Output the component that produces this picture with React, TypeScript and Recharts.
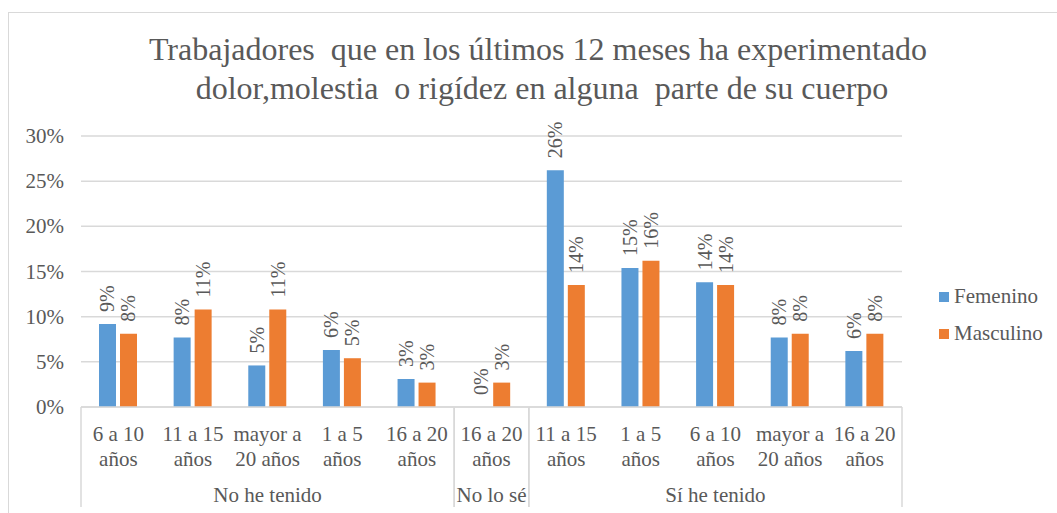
import { Bar, BarChart, CartesianGrid, LabelList, XAxis, YAxis } from "recharts"

const categoryLine1 = ["6 a 10", "11 a 15", "mayor a", "1 a 5", "16 a 20", "16 a 20", "11 a 15", "1 a 5", "6 a 10", "mayor a", "16 a 20"]
const categoryLine2 = ["años", "años", "20 años", "años", "años", "años", "años", "años", "años", "20 años", "años"]
const groupOf = ["No he tenido", "No he tenido", "No he tenido", "No he tenido", "No he tenido", "No lo sé", "Sí he tenido", "Sí he tenido", "Sí he tenido", "Sí he tenido", "Sí he tenido"]

// porcentajes (%)
const femenino = [9.2, 7.7, 4.6, 6.3, 3.1, 0, 26.2, 15.4, 13.8, 7.7, 6.2]
const masculino = [8.1, 10.8, 10.8, 5.4, 2.7, 2.7, 13.5, 16.2, 13.5, 8.1, 8.1]

const yTicks = [0, 5, 10, 15, 20, 25, 30]

const data = categoryLine1.map((c, i) => ({
  key: `${i}`,
  femenino: femenino[i],
  masculino: masculino[i],
}))

const W = 1057
const H = 513
const PLOT_LEFT = 81
const PLOT_RIGHT = 902
const PLOT_TOP = 136
const PLOT_BOTTOM = 407
const BAND = (PLOT_RIGHT - PLOT_LEFT) / categoryLine1.length

const FONT = '"Liberation Serif", "Times New Roman", serif'
const GRAY = "#595959"
const LINE = "#d9d9d9"
const BLUE = "#5B9BD5"
const ORANGE = "#ED7D31"

function CategoryTick(props: any) {
  const { x, index } = props
  const i = index as number
  const g = groupOf[i]
  const first = i === 0 || groupOf[i - 1] !== g
  const last = i === groupOf.length - 1 || groupOf[i + 1] !== g
  let start = i
  while (start > 0 && groupOf[start - 1] === g) start--
  let end = i
  while (end < groupOf.length - 1 && groupOf[end + 1] === g) end++
  const middle = i === Math.floor((start + end) / 2)
  const textProps = {
    textAnchor: "middle" as const,
    dominantBaseline: "central" as const,
    fontFamily: FONT,
    fontSize: 21,
    fill: GRAY,
  }
  return (
    <g>
      <text x={x} y={PLOT_BOTTOM + 27} {...textProps}>{categoryLine1[i]}</text>
      <text x={x} y={PLOT_BOTTOM + 52} {...textProps}>{categoryLine2[i]}</text>
      {middle && (
        <text x={x + ((start + end) / 2 - i) * BAND} y={PLOT_BOTTOM + 88} {...textProps}>{g}</text>
      )}
      {first && <line x1={x - BAND / 2} x2={x - BAND / 2} y1={PLOT_BOTTOM} y2={PLOT_BOTTOM + 100} stroke={LINE} strokeWidth={1.5} />}
      {last && <line x1={x + BAND / 2} x2={x + BAND / 2} y1={PLOT_BOTTOM} y2={PLOT_BOTTOM + 100} stroke={LINE} strokeWidth={1.5} />}
    </g>
  )
}

function PercentTick(props: any) {
  const { y, payload } = props
  return (
    <text x={PLOT_LEFT - 17} y={y} textAnchor="end" dominantBaseline="central" fontFamily={FONT} fontSize={21} fill={GRAY}>
      {`${payload.value}%`}
    </text>
  )
}

function RotatedLabel(props: any) {
  const { x, y, width, value } = props
  const cx = Number(x) + Number(width) / 2
  const ty = Number(y) - 12
  return (
    <text
      x={cx}
      y={ty}
      transform={`rotate(-90 ${cx} ${ty})`}
      textAnchor="start"
      dominantBaseline="central"
      fontFamily={FONT}
      fontSize={20}
      fill={GRAY}
    >
      {`${Math.round(Number(value))}%`}
    </text>
  )
}

export default function App() {
  return (
    <div style={{ position: "absolute", left: 0, top: 0, width: W, height: H, background: "#fff", overflow: "hidden" }}>
      <div
        style={{
          position: "absolute",
          left: 8,
          top: 12,
          width: W + 20,
          height: H + 20,
          border: `1.5px solid ${LINE}`,
          boxSizing: "border-box",
        }}
      />
      <div
        style={{
          position: "absolute",
          left: 0,
          width: 1076,
          top: 30,
          textAlign: "center",
          fontFamily: FONT,
          fontSize: 32,
          lineHeight: "39px",
          color: GRAY,
          whiteSpace: "pre",
        }}
      >
        {"Trabajadores  que en los últimos 12 meses ha experimentado\n dolor,molestia  o rigídez en alguna  parte de su cuerpo"}
      </div>
      <div style={{ position: "absolute", left: 0, top: 0 }}>
        <BarChart
          width={W}
          height={H}
          data={data}
          margin={{ top: PLOT_TOP, right: W - PLOT_RIGHT, bottom: H - PLOT_BOTTOM - 100, left: 0 }}
          barSize={17}
          barGap={4}
        >
          <CartesianGrid vertical={false} stroke={LINE} strokeWidth={1.5} />
          <XAxis
            dataKey="key"
            interval={0}
            height={100}
            tick={<CategoryTick />}
            tickLine={false}
            axisLine={{ stroke: LINE, strokeWidth: 1.5 }}
          />
          <YAxis
            width={PLOT_LEFT}
            domain={[0, 30]}
            ticks={yTicks}
            tick={<PercentTick />}
            tickLine={false}
            axisLine={false}
          />
          <Bar dataKey="femenino" name="Femenino" fill={BLUE} minPointSize={0.01} isAnimationActive={false}>
            <LabelList dataKey="femenino" content={<RotatedLabel />} />
          </Bar>
          <Bar dataKey="masculino" name="Masculino" fill={ORANGE} minPointSize={0.01} isAnimationActive={false}>
            <LabelList dataKey="masculino" content={<RotatedLabel />} />
          </Bar>
        </BarChart>
      </div>
      <div style={{ position: "absolute", left: 939, top: 278, fontFamily: FONT, fontSize: 21, color: GRAY }}>
        {[
          { name: "Femenino", color: BLUE },
          { name: "Masculino", color: ORANGE },
        ].map((s) => (
          <div key={s.name} style={{ display: "flex", alignItems: "center", height: 37 }}>
            <span style={{ display: "inline-block", width: 10, height: 10, background: s.color, marginRight: 5 }} />
            <span>{s.name}</span>
          </div>
        ))}
      </div>
    </div>
  )
}
